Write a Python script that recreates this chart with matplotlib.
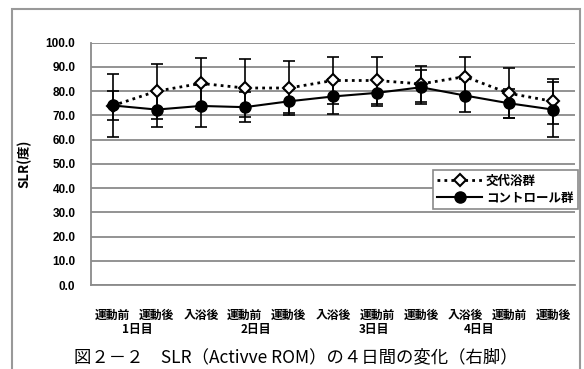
import matplotlib
matplotlib.use("Agg")
import matplotlib.pyplot as plt
import matplotlib.transforms as mtransforms
from matplotlib.patches import Rectangle
import numpy as np

# categories and day groups
CATEGORIES = ["運動前", "運動後", "入浴後", "運動前", "運動後", "入浴後",
              "運動前", "運動後", "入浴後", "運動前", "運動後"]
DAY_LABELS = ["1日目", "2日目", "3日目", "4日目"]
DAY_POS = [0.56, 3.25, 5.93, 8.31]

# 交代浴群 (open diamonds, dotted)
bath_mean = [74.0, 80.0, 83.2, 81.3, 81.3, 84.4, 84.4, 83.0, 86.0, 79.1, 75.8]
bath_sd = [6.0, 11.3, 10.5, 12.0, 11.0, 9.6, 9.8, 7.5, 8.2, 10.3, 9.3]

# コントロール群 (filled circles, solid)
ctrl_mean = [74.1, 72.4, 73.9, 73.4, 75.8, 77.8, 79.3, 81.6, 78.2, 75.0, 72.4]
ctrl_sd = [13.0, 7.3, 8.8, 6.2, 5.0, 7.4, 5.5, 7.0, 6.9, 6.0, 11.4]

Y_TICKS = np.arange(0, 101, 10)

JP = ["Noto Sans CJK JP", "DejaVu Sans"]
GRID = "#8a8a8a"

fig = plt.figure(figsize=(5.84, 3.69), dpi=100)
ax = fig.add_axes([90.7 / 584, 1 - 285 / 369, (575 - 90.7) / 584, (285 - 42.7) / 369])

x = np.arange(len(CATEGORIES))

ax.errorbar(x, bath_mean, yerr=bath_sd, fmt="none", ecolor="black",
            elinewidth=1.2, capsize=4, capthick=1.2, zorder=3)
ax.errorbar(x, ctrl_mean, yerr=ctrl_sd, fmt="none", ecolor="black",
            elinewidth=1.2, capsize=4, capthick=1.2, zorder=3)

ax.plot(x, bath_mean, linestyle=(0, (1, 1.5)), color="black", lw=2,
        marker="D", markersize=6, markerfacecolor="white",
        markeredgecolor="black", markeredgewidth=1.5, zorder=4, label="交代浴群")
ax.plot(x, ctrl_mean, linestyle="-", color="black", lw=1.5,
        marker="o", markersize=8, markerfacecolor="black",
        markeredgecolor="black", zorder=5, label="コントロール群")

ax.set_xlim(-0.5, len(CATEGORIES) - 0.5)
ax.set_ylim(0, 100)
ax.set_yticks(Y_TICKS)
ax.set_yticklabels([f"{v:.1f}" for v in Y_TICKS], fontfamily="Liberation Sans",
                   fontweight="bold", fontsize=8.5)
ax.set_xticks(x)
ax.set_xticklabels(CATEGORIES, fontfamily=JP, fontweight="bold", fontsize=8.5)
ax.tick_params(axis="y", length=0, pad=11)
ax.tick_params(axis="x", length=0, pad=17)

ax.yaxis.grid(True, color=GRID, lw=1.3)
ax.set_axisbelow(True)
for side in ["top", "right"]:
    ax.spines[side].set_visible(False)
for side in ["left", "bottom"]:
    ax.spines[side].set_color(GRID)
    ax.spines[side].set_linewidth(1.3)

ax.set_ylabel("SLR(度)", fontfamily=JP, fontweight="bold", fontsize=9.5, labelpad=10)

# day row under the categories
day_tr = mtransforms.blended_transform_factory(ax.transData, fig.transFigure)
for lab, pos in zip(DAY_LABELS, DAY_POS):
    ax.text(pos, 1 - 330 / 369, lab, transform=day_tr,
            ha="center", va="center", fontfamily=JP, fontweight="bold", fontsize=8.5)

leg = fig.legend(loc="upper left", bbox_to_anchor=(432.7 / 584, 1 - 170 / 369),
                 borderaxespad=0, frameon=True, fancybox=False, framealpha=1,
                 edgecolor=GRID, handlelength=3.6, handletextpad=0.3,
                 borderpad=0.35, labelspacing=0.35,
                 prop={"family": JP, "weight": "bold", "size": 9})
leg.get_frame().set_linewidth(1.2)

fig.text(296 / 584, 1 - 357 / 369, "図２－２　SLR（Activve ROM）の４日間の変化（右脚）",
         ha="center", va="center", fontfamily=JP, fontsize=12.5)

# outer frame of the figure
fig.patches.append(Rectangle((12 / 584, -0.05), (580 - 12) / 584, 1.05 - 9 / 369,
                             transform=fig.transFigure, fill=False,
                             edgecolor="#999999", lw=1.5))

fig.savefig("out.png", dpi=100)
